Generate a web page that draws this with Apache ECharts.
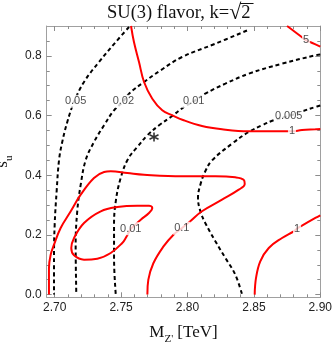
<!DOCTYPE html>
<html><head><meta charset="utf-8">
<script src="https://cdn.jsdelivr.net/npm/echarts@6/dist/echarts.min.js"></script>
<style>html,body{margin:0;padding:0;background:#fff}#c{width:332px;height:343px}</style>
</head><body><div id="c"></div>
<script>
// ---- axis ranges & ticks ----
const xMin = 2.694, xMax = 2.90, yMin = -0.009, yMax = 0.9;
const xMajorTicks = [2.70, 2.75, 2.80, 2.85, 2.90];
const xTickLabels = ['2.70', '2.75', '2.80', '2.85', '2.90'];
const xMinorTicks = [2.71,2.72,2.73,2.74,2.76,2.77,2.78,2.79,2.81,2.82,2.83,2.84,2.86,2.87,2.88,2.89];
const yMajorTicks = [0, 0.2, 0.4, 0.6, 0.8];
const yTickLabels = ['0.0', '0.2', '0.4', '0.6', '0.8'];
const yMinorTicks = [0.05,0.1,0.15,0.25,0.3,0.35,0.45,0.5,0.55,0.65,0.7,0.75,0.85];

// ---- red contours (solid) ----
const red5 = [[2.875,0.900],[2.881,0.880],[2.886,0.863],[2.889,0.853],[2.894,0.843],[2.900,0.831]];
const red1Upper = [[2.7575,0.900],[2.7597,0.8464],[2.7635,0.7794],[2.7673,0.7124],[2.7735,0.6564],[2.7810,0.6176],[2.7886,0.6008],[2.7966,0.5851],[2.8109,0.5650],[2.8260,0.5539],[2.8461,0.5472],[2.8712,0.5472],[2.8787,0.5472],[2.8862,0.5516],[2.8963,0.5539],[2.9000,0.5549]];
const red01 = [[2.7698,0.0],[2.7705,0.0491],[2.7743,0.1050],[2.7818,0.1606],[2.7893,0.2000],[2.7957,0.2223],[2.8021,0.2457],[2.8109,0.2792],[2.8260,0.3181],[2.8386,0.3516],[2.8431,0.3707],[2.8423,0.3851],[2.8360,0.3931],[2.8210,0.3965],[2.7959,0.3965],[2.7673,0.4018],[2.7547,0.4075],[2.7422,0.4132],[2.7372,0.4109],[2.7296,0.3908],[2.7196,0.3348],[2.7121,0.2792],[2.7045,0.2233],[2.6995,0.1673],[2.6970,0.1338],[2.6957,0.0893],[2.6957,0.0]];
const red001Loop = [[2.7573,0.2209],[2.7535,0.1898],[2.7509,0.1730],[2.7422,0.1395],[2.7321,0.1204],[2.7221,0.1171],[2.7146,0.1318],[2.7125,0.1563],[2.7146,0.1898],[2.7221,0.2400],[2.7347,0.2792],[2.7472,0.2936],[2.7622,0.2980],[2.7710,0.2980],[2.7735,0.2903],[2.7710,0.2735],[2.7648,0.2511],[2.7573,0.2209]];
const red1Lower = [[2.8506,0.0],[2.8516,0.0558],[2.8548,0.1117],[2.8612,0.1563],[2.8712,0.1898],[2.8800,0.2122],[2.8825,0.2209],[2.8862,0.2310],[2.8963,0.2568],[2.9000,0.2658]];

// ---- black contours (dashed) ----
const dash005 = [[2.7560,0.8966],[2.7460,0.8464],[2.7334,0.7794],[2.7221,0.7124],[2.7146,0.6454],[2.7095,0.5784],[2.7057,0.5114],[2.7033,0.4511],[2.7015,0.3472],[2.7000,0.2343],[2.6995,0.1228],[2.6995,0.0]];
const dash002 = [[2.8448,0.8849],[2.8210,0.8407],[2.7959,0.7961],[2.7798,0.7516],[2.7673,0.7124],[2.7560,0.6732],[2.7517,0.6477],[2.7447,0.6176],[2.7372,0.5673],[2.7296,0.5114],[2.7234,0.4511],[2.7196,0.3683],[2.7170,0.2792],[2.7158,0.1673],[2.7163,0.0]];
const dash001 = [[2.9000,0.8045],[2.8963,0.8018],[2.8712,0.7737],[2.8461,0.7402],[2.8285,0.7067],[2.8134,0.6732],[2.8047,0.6477],[2.7974,0.6286],[2.7874,0.5951],[2.7786,0.5673],[2.7698,0.5338],[2.7622,0.4946],[2.7552,0.4544],[2.7497,0.3908],[2.7460,0.3127],[2.7447,0.2343],[2.7447,0.1228],[2.7460,0.0]];
const dash0005 = [[2.9000,0.6337],[2.8963,0.6286],[2.8870,0.6152],[2.8762,0.5985],[2.8649,0.5841],[2.8561,0.5673],[2.8461,0.5449],[2.8335,0.5057],[2.8185,0.4497],[2.8134,0.4132],[2.8097,0.3683],[2.8079,0.3238],[2.8097,0.2792],[2.8134,0.2400],[2.8210,0.1787],[2.8285,0.1228],[2.8360,0.0668],[2.8411,0.0]];

// ---- contour labels ----
const labelText = ['5', '1', '0.05', '0.02', '0.01', '0.005', '0.01', '0.1', '1'];
const labelX = [2.8893, 2.8787, 2.7158, 2.7517, 2.8047, 2.8762, 2.7573, 2.7957, 2.8825];
const labelY = [0.853, 0.5472, 0.6477, 0.6477, 0.6477, 0.5985, 0.2209, 0.2223, 0.2209];

// ---- marker (star) ----
const starPoint = [[2.7748, 0.5281]];

const chart = echarts.init(document.getElementById('c'), null, {renderer: 'canvas'});
const frameColor = '#a0a0a0';
const tickColor = '#8c8c8c';
const lblFont = 'Liberation Sans';

// title layout (measured so the overline sits on the radicand)
const titleX = 107, titleFont = '18.5px "Liberation Serif"', radFont = '22px "Liberation Serif"';
const mctx = document.createElement('canvas').getContext('2d');
mctx.font = titleFont; const wMain = mctx.measureText('SU(3) flavor, k=').width; const wTwo = mctx.measureText('2').width;
mctx.font = radFont; const wRad = mctx.measureText('√').width;
const olX1 = titleX + wMain + wRad * 0.9, olX2 = titleX + wMain + wRad + wTwo + 3;

function xAx(pos, major, showLine, showLabel) {
  return {
    type: 'value', position: pos, min: xMin, max: xMax, gridIndex: 0,
    axisLine: {show: showLine, onZero: false, lineStyle: {color: frameColor, width: 1}},
    axisTick: {show: true, inside: true, length: major ? 5 : 3, customValues: major ? xMajorTicks : xMinorTicks, lineStyle: {color: tickColor, width: 1}},
    axisLabel: showLabel ? {show: true, customValues: xMajorTicks, margin: 4, fontSize: 12, color: '#222', fontFamily: lblFont,
      formatter: v => { const i = xMajorTicks.findIndex(t => Math.abs(t - v) < 1e-6); return i >= 0 ? xTickLabels[i] : ''; }} : {show: false},
    splitLine: {show: false}
  };
}
function yAx(pos, major, showLine, showLabel) {
  return {
    type: 'value', position: pos, min: yMin, max: yMax, gridIndex: 0,
    axisLine: {show: showLine, onZero: false, lineStyle: {color: frameColor, width: 1}},
    axisTick: {show: true, inside: true, length: major ? 5 : 3, customValues: major ? yMajorTicks : yMinorTicks, lineStyle: {color: tickColor, width: 1}},
    axisLabel: showLabel ? {show: true, customValues: yMajorTicks, margin: 5, fontSize: 12, color: '#222', fontFamily: lblFont,
      formatter: v => { const i = yMajorTicks.findIndex(t => Math.abs(t - v) < 1e-6); return i >= 0 ? yTickLabels[i] : ''; }} : {show: false},
    splitLine: {show: false}
  };
}

const xAxes = [xAx('bottom', true, true, true), xAx('bottom', false, false, false), xAx('top', true, true, false), xAx('top', false, false, false)];
xAxes[0].name = "{m|M}{sub|Z'}{m| [TeV]}";
xAxes[0].nameLocation = 'middle';
xAxes[0].nameGap = 27;
xAxes[0].nameTextStyle = {rich: {
  m: {fontFamily: 'Liberation Serif', fontSize: 17, color: '#111', verticalAlign: 'bottom', padding: [0, 0, 3, 0]},
  sub: {fontFamily: 'Liberation Serif', fontSize: 11, color: '#111', verticalAlign: 'bottom', padding: [0, 0, 0, 0]}
}};
const yAxes = [yAx('left', true, true, true), yAx('left', false, false, false), yAx('right', true, true, false), yAx('right', false, false, false)];
yAxes[0].name = '{m|s}{sub|u}';
yAxes[0].nameLocation = 'middle';
yAxes[0].nameGap = 26;
yAxes[0].nameTextStyle = {rich: {
  m: {fontFamily: 'Liberation Serif', fontSize: 17, color: '#111', verticalAlign: 'bottom', padding: [0, 0, 3, 0]},
  sub: {fontFamily: 'Liberation Serif', fontSize: 11, color: '#111', verticalAlign: 'bottom'}
}};

function redLine(name, data, smooth) {
  return {name, type: 'line', data, xAxisIndex: 0, yAxisIndex: 0, smooth: smooth, showSymbol: false, symbol: 'none', silent: true, z: 3,
    lineStyle: {color: '#ff0000', width: 2}};
}
function dashLine(name, data) {
  return {name, type: 'line', data, xAxisIndex: 0, yAxisIndex: 0, smooth: 0.4, showSymbol: false, symbol: 'none', silent: true, z: 2,
    lineStyle: {color: '#000', width: 2, type: [4, 3]}};
}

const labelData = labelText.map((t, i) => ({name: t, value: [labelX[i], labelY[i]]}));

const option = {
  animation: false,
  backgroundColor: '#fff',
  grid: {left: 46.7, right: 11.7, top: 26, bottom: 45.7, containLabel: false, outerBoundsMode: 'none'},
  xAxis: xAxes,
  yAxis: yAxes,
  graphic: [
    {type: 'text', x: titleX, y: 13, z: 10, style: {text: 'SU(3) flavor, k={r|√}2', font: titleFont, fill: '#111', textAlign: 'left', textVerticalAlign: 'middle',
      rich: {r: {font: radFont, fill: '#111'}}}},
    {type: 'line', z: 10, shape: {x1: olX1, y1: 3.5, x2: olX2, y2: 3.5}, style: {stroke: '#111', lineWidth: 1}}
  ],
  series: [
    dashLine('0.05', dash005),
    dashLine('0.02', dash002),
    dashLine('0.01', dash001),
    dashLine('0.005', dash0005),
    redLine('red 5', red5, 0.4),
    redLine('red 1 upper', red1Upper, 0.4),
    redLine('red 0.1', red01, 0.4),
    redLine('red 0.01', red001Loop, 0.4),
    redLine('red 1 lower', red1Lower, 0.4),
    {name: 'labels', type: 'scatter', data: labelData, symbolSize: 1, silent: true, z: 5,
      itemStyle: {color: 'rgba(0,0,0,0)'},
      label: {show: true, position: 'inside', formatter: p => p.name, fontSize: 11, fontFamily: lblFont, color: '#222', backgroundColor: '#fff', padding: [1, 1]}},
    {name: 'star', type: 'scatter', data: starPoint, silent: true, z: 6,
      symbol: 'path://M0,-5L0,5M-4.33,-2.5L4.33,2.5M-4.33,2.5L4.33,-2.5', symbolSize: 9,
      itemStyle: {color: 'rgba(0,0,0,0)', borderColor: '#000', borderWidth: 1.6}}
  ]
};
chart.setOption(option);
</script></body></html>
